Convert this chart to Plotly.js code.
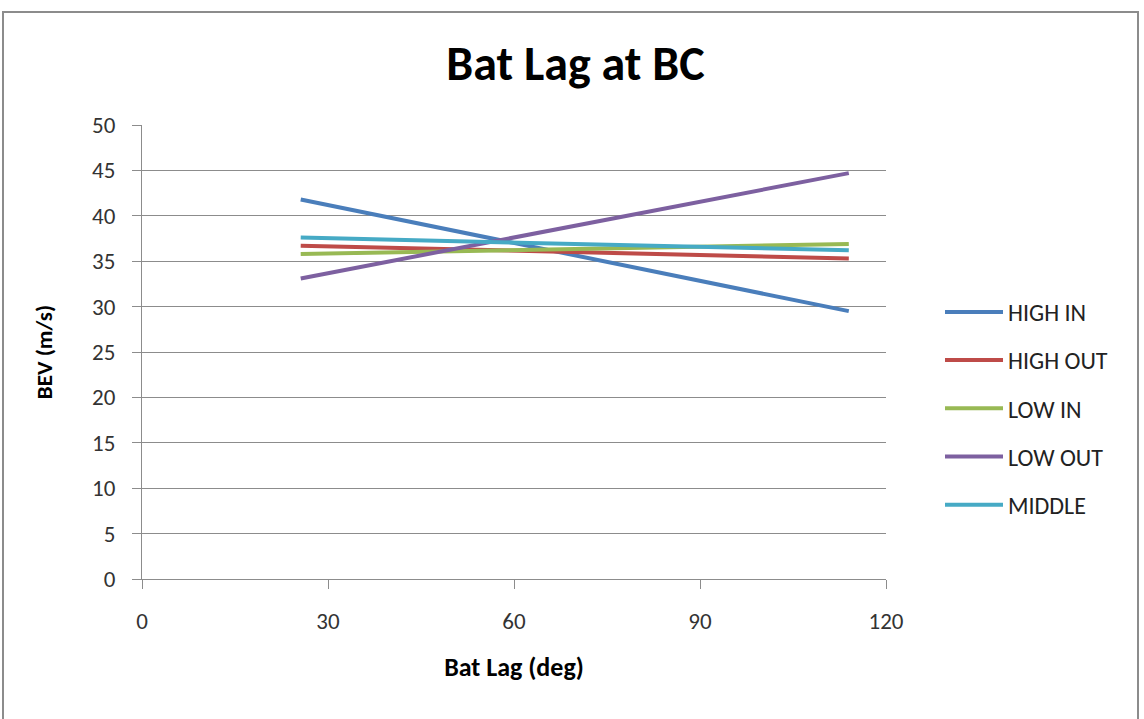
<!DOCTYPE html>
<html>
<head>
<meta charset="utf-8">
<script src="https://cdn.plot.ly/plotly-3.0.1.min.js"></script>
<style>
html,body{margin:0;padding:0;background:#fff;}
#frame{position:absolute;left:2px;top:11px;width:1137px;height:720px;border:2px solid #8c8c8c;box-sizing:border-box;pointer-events:none;z-index:10;}
#chart{width:1144px;height:719px;}
</style>
</head>
<body>
<div id="frame"></div>
<div id="chart"></div>
<script>
const seriesNames = ["HIGH IN", "HIGH OUT", "LOW IN", "LOW OUT", "MIDDLE"];
const batLag = [25.6, 114.0];
const highIn = [41.8, 29.5];
const highOut = [36.7, 35.3];
const lowIn = [35.8, 36.9];
const lowOut = [33.1, 44.7];
const middle = [37.6, 36.2];
const colors = ["#4A7EBB", "#BE4B48", "#98B954", "#7D60A0", "#46AAC5"];
const xTicks = [0, 30, 60, 90, 120];
const yTicks = [0, 5, 10, 15, 20, 25, 30, 35, 40, 45, 50];

const values = [highIn, highOut, lowIn, lowOut, middle];
const font = "Carlito, 'Liberation Sans Narrow', 'Liberation Sans', Arial, sans-serif";

const traces = values.map((v, i) => ({
  x: batLag,
  y: v,
  name: seriesNames[i],
  type: "scatter",
  mode: "lines",
  legendgroup: "g" + i,
  line: {color: colors[i], width: 4}
}));

const layout = {
  width: 1144,
  height: 719,
  margin: {l: 142, r: 258, t: 125, b: 140},
  paper_bgcolor: "#fff",
  plot_bgcolor: "#fff",
  font: {family: font, size: 23, color: "#333"},
  title: {text: "<b>Bat Lag at BC</b>", x: 0.503, xref: "container", xanchor: "center", y: 0.912, yref: "container", yanchor: "middle", font: {size: 48, family: font, color: "#000"}},
  xaxis: {
    range: [0, 120],
    tickvals: xTicks,
    ticktext: xTicks.map(String),
    ticks: "outside",
    ticklen: 9,
    tickcolor: "#8c8c8c",
    ticklabelstandoff: 12,
    showline: true,
    linecolor: "#8c8c8c",
    linewidth: 1,
    showgrid: false,
    zeroline: false,
    tickfont: {size: 23, color: "#333"},
    title: {text: "<b>Bat Lag (deg)</b>", font: {size: 26, color: "#000"}, standoff: 24}
  },
  yaxis: {
    range: [0, 50],
    tickvals: yTicks,
    ticktext: yTicks.map(String),
    ticks: "outside",
    ticklen: 9,
    tickcolor: "#8c8c8c",
    ticklabelstandoff: 12,
    showline: true,
    linecolor: "#8c8c8c",
    linewidth: 1,
    showgrid: true,
    gridcolor: "#8c8c8c",
    gridwidth: 1,
    zeroline: false,
    tickfont: {size: 23, color: "#333"},
    title: {text: "<b>BEV (m/s)</b>", font: {size: 23, color: "#000"}, standoff: 33}
  },
  showlegend: true,
  legend: {
    x: 0.0726, xref: "paper", xanchor: "left",
    y: 0.376, yanchor: "middle",
    font: {size: 24, color: "#222", family: font},
    tracegroupgap: 14,
    itemwidth: 58,
    bgcolor: "rgba(0,0,0,0)"
  }
};
layout.legend.x = 1 + (940 - 886) / 744;

Plotly.newPlot("chart", traces, layout, {displayModeBar: false, staticPlot: true});
</script>
</body>
</html>
